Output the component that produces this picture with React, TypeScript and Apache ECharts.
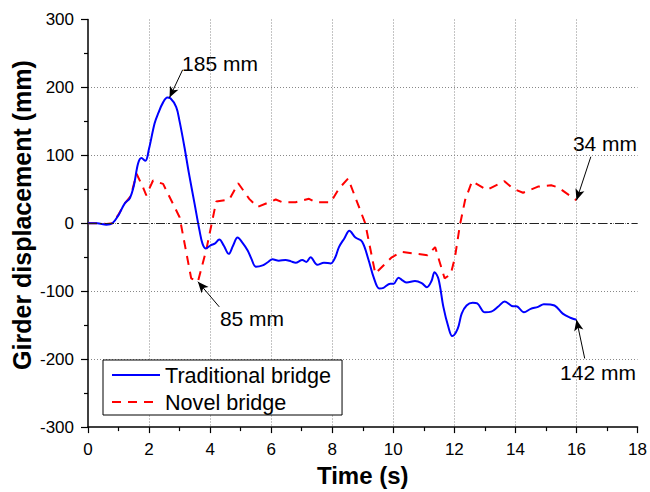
import React, { useEffect, useRef } from "react";
import * as echarts from "echarts";

const tradTime = [0, 0.3, 0.6, 0.8, 1.0, 1.2, 1.37, 1.5, 1.64, 1.75, 1.88, 2.0, 2.18, 2.3, 2.46, 2.6, 2.7, 2.89, 3.0, 3.16, 3.3, 3.49, 3.65, 3.75, 3.85, 4.03, 4.15, 4.3, 4.45, 4.61, 4.75, 4.9, 5.05, 5.23, 5.35, 5.5, 5.72, 5.9, 6.04, 6.25, 6.47, 6.65, 6.8, 7.02, 7.15, 7.29, 7.51, 7.73, 7.95, 8.1, 8.22, 8.4, 8.56, 8.76, 8.98, 9.19, 9.36, 9.54, 9.68, 9.9, 10.01, 10.17, 10.3, 10.44, 10.71, 10.93, 11.1, 11.25, 11.35, 11.48, 11.64, 11.8, 11.93, 12.11, 12.24, 12.4, 12.6, 12.75, 13.0, 13.21, 13.45, 13.65, 13.92, 14.03, 14.28, 14.5, 14.74, 14.93, 15.28, 15.55, 15.8, 16.0];
const tradDisp = [0, 0, -2, 0, 12, 29, 37, 55, 88, 96, 92, 110, 147, 162, 178, 185, 184, 171, 150, 112, 75, 29, -10, -30, -37, -32, -30, -24, -33, -45, -33, -21, -28, -40, -52, -64, -62, -57, -53, -55, -54, -56, -58, -54, -57, -50, -61, -58, -59, -50, -35, -22, -11, -21, -27, -54, -80, -96, -95, -89, -89, -80, -84, -87, -85, -88, -94, -85, -72, -82, -123, -152, -166, -155, -133, -121, -117, -118, -131, -130, -122, -115, -122, -122, -131, -126, -123, -119, -121, -133, -139, -142];

const novelTime = [0, 0.3, 0.6, 0.8, 1.0, 1.2, 1.4, 1.59, 1.8, 1.91, 2.13, 2.46, 3.0, 3.38, 3.6, 3.87, 4.03, 4.2, 4.63, 4.92, 5.28, 5.55, 6.15, 6.37, 6.8, 7.24, 7.45, 7.95, 8.22, 8.52, 9.08, 9.41, 9.95, 10.28, 11.12, 11.37, 11.68, 11.88, 12.02, 12.18, 12.35, 12.58, 13.06, 13.64, 13.92, 14.25, 14.74, 15.17, 15.39, 16.0];
const novelDisp = [0, 0, -1, 0, 13, 29, 40, 73, 53, 41, 63, 58, 9, -81, -86, -40, -5, 32, 35, 59, 36, 24, 35, 31, 31, 36, 31, 31, 51, 66, 0, -74, -50, -42, -47, -35, -81, -75, -50, -3, 34, 62, 49, 62, 51, 45, 54, 56, 53, 34];

const seriesNames = ["Traditional bridge", "Novel bridge"];
const xTicks = { min: 0, max: 18, interval: 2 };
const yTicks = { min: -300, max: 300, interval: 100 };

// annotation: label text, target point (t, disp)
const annoLabels = ["185 mm", "34 mm", "142 mm", "85 mm"];
const annoTargets: [number, number][] = [[2.67, 185], [16, 34], [16, -142], [3.6, -86]];

const FONT = "'Liberation Sans', Arial, Helvetica, sans-serif";

export default function App() {
  const ref = useRef<HTMLDivElement>(null);
  useEffect(() => {
    if (!ref.current) return;
    const chart = echarts.init(ref.current, undefined, { renderer: "svg" });
    const trad = tradTime.map((t, i) => [t, tradDisp[i]]);
    const novel = novelTime.map((t, i) => [t, novelDisp[i]]);
    // arrow tails (placement of the annotation arrows)
    const arrowTails: [number, number][] = [[3.1, 226], [16.47, 98], [16.27, -199], [4.3, -123]];
    const labelPos: [number, number][] = [[220, 63], [605, 143], [598, 372], [252, 318]];

    chart.setOption({
      animation: false,
      textStyle: { fontFamily: FONT, color: "#000" },
      grid: { left: 88, right: 10, top: 19.5, bottom: 64.5 },
      legend: {
        orient: "vertical",
        left: 103,
        top: 360,
        data: seriesNames,
        itemWidth: 48,
        itemHeight: 14,
        itemGap: 3,
        padding: [3, 11, 1, 8],
        borderColor: "#000",
        borderWidth: 1,
        backgroundColor: "#fff",
        itemStyle: { opacity: 0 },
        textStyle: { fontFamily: FONT, fontSize: 21.6, color: "#000", lineHeight: 24 },
      },
      xAxis: {
        type: "value",
        min: xTicks.min,
        max: xTicks.max,
        interval: xTicks.interval,
        axisLine: { show: true, onZero: false, lineStyle: { color: "#000", width: 1.5 } },
        axisTick: { show: true, length: 6, lineStyle: { color: "#000", width: 1.2 } },
        minorTick: { show: true, splitNumber: 2, length: 4, lineStyle: { color: "#000", width: 1.2 } },
        axisLabel: { fontSize: 17, color: "#000", fontFamily: FONT, margin: 14 },
        splitLine: { show: true, showMinLine: false, showMaxLine: false, lineStyle: { color: "#888", type: [1, 2], width: 1 } },
        name: "Time (s)",
        nameLocation: "middle",
        nameGap: 31,
        nameTextStyle: { fontSize: 24, fontWeight: "bold", color: "#000", fontFamily: FONT },
      },
      yAxis: {
        type: "value",
        min: yTicks.min,
        max: yTicks.max,
        interval: yTicks.interval,
        axisLine: { show: true, onZero: false, lineStyle: { color: "#000", width: 1.5 } },
        axisTick: { show: true, length: 7, lineStyle: { color: "#000", width: 1.2 } },
        minorTick: { show: true, splitNumber: 2, length: 4, lineStyle: { color: "#000", width: 1.2 } },
        axisLabel: { fontSize: 17, color: "#000", fontFamily: FONT, margin: 14 },
        splitLine: { show: true, showMinLine: false, showMaxLine: false, lineStyle: { color: "#888", type: [1, 2], width: 1 } },
      },
      graphic: [
        {
          type: "text",
          x: 22,
          y: 215,
          rotation: Math.PI / 2,
          style: {
            text: "Girder displacement (mm)",
            font: `bold 25px ${FONT}`,
            fill: "#000",
            align: "center",
            verticalAlign: "middle",
          },
        },
        ...annoLabels.map((txt, i) => ({
          type: "text",
          x: labelPos[i][0],
          y: labelPos[i][1],
          style: {
            text: txt,
            font: `21px ${FONT}`,
            fill: "#000",
            align: "center",
            verticalAlign: "middle",
          },
        })),
      ],
      series: [
        {
          name: seriesNames[0],
          type: "line",
          data: trad,
          symbol: "none",
          smooth: 0.35,
          lineStyle: { color: "#0000ff", width: 2 },
          itemStyle: { color: "#0000ff" },
          z: 3,
          markLine: {
            silent: true,
            symbol: ["none", "arrow"],
            symbolSize: [7, 11],
            label: { show: false },
            lineStyle: { color: "#000", width: 1, type: "solid" },
            data: annoTargets.map((p, i) => [
              { coord: arrowTails[i] },
              { coord: p },
            ]),
          },
        },
        {
          name: seriesNames[1],
          type: "line",
          data: novel,
          symbol: "none",
          lineStyle: { color: "#ff0000", width: 2, type: [9, 7] },
          itemStyle: { color: "#ff0000" },
          z: 2,
          markLine: {
            silent: true,
            symbol: ["none", "none"],
            label: { show: false },
            lineStyle: { color: "#222", width: 1, type: [9, 3, 2, 3] },
            data: [{ yAxis: 0 }],
          },
        },
      ],
    });
    return () => chart.dispose();
  }, []);
  return (
    <div
      ref={ref}
      style={{ position: "fixed", left: 0, top: 0, width: 650, height: 492, background: "#fff" }}
    />
  );
}
